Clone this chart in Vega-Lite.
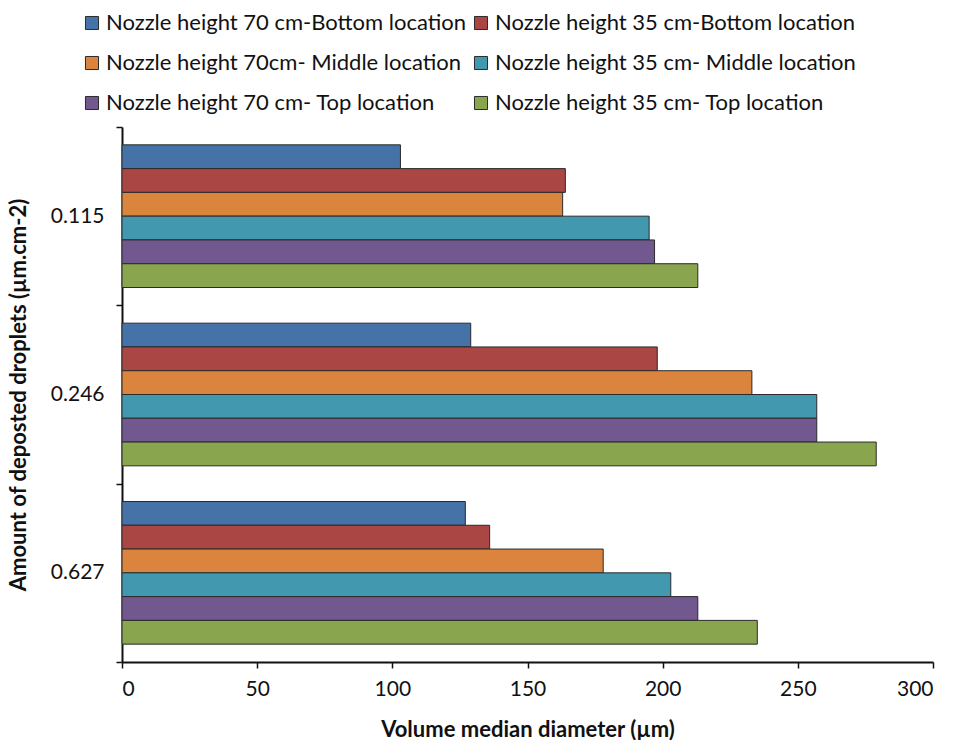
{
  "$schema": "https://vega.github.io/schema/vega-lite/v6.json",
  "width": 811,
  "height": 535,
  "autosize": "none",
  "padding": {"left": 122, "top": 127, "right": 20, "bottom": 78},
  "background": "white",
  "config": {
    "view": {"stroke": null},
    "font": "Lato"
  },
  "data": {
    "values": [
      {"amount": "0.115", "series": "Nozzle height 70 cm-Bottom location", "vmd": 103},
      {"amount": "0.115", "series": "Nozzle height 35 cm-Bottom location", "vmd": 164},
      {"amount": "0.115", "series": "Nozzle height 70cm- Middle location", "vmd": 163},
      {"amount": "0.115", "series": "Nozzle height 35 cm- Middle location", "vmd": 195},
      {"amount": "0.115", "series": "Nozzle height 70 cm- Top location", "vmd": 197},
      {"amount": "0.115", "series": "Nozzle height 35 cm- Top location", "vmd": 213},
      {"amount": "0.246", "series": "Nozzle height 70 cm-Bottom location", "vmd": 129},
      {"amount": "0.246", "series": "Nozzle height 35 cm-Bottom location", "vmd": 198},
      {"amount": "0.246", "series": "Nozzle height 70cm- Middle location", "vmd": 233},
      {"amount": "0.246", "series": "Nozzle height 35 cm- Middle location", "vmd": 257},
      {"amount": "0.246", "series": "Nozzle height 70 cm- Top location", "vmd": 257},
      {"amount": "0.246", "series": "Nozzle height 35 cm- Top location", "vmd": 279},
      {"amount": "0.627", "series": "Nozzle height 70 cm-Bottom location", "vmd": 127},
      {"amount": "0.627", "series": "Nozzle height 35 cm-Bottom location", "vmd": 136},
      {"amount": "0.627", "series": "Nozzle height 70cm- Middle location", "vmd": 178},
      {"amount": "0.627", "series": "Nozzle height 35 cm- Middle location", "vmd": 203},
      {"amount": "0.627", "series": "Nozzle height 70 cm- Top location", "vmd": 213},
      {"amount": "0.627", "series": "Nozzle height 35 cm- Top location", "vmd": 235}
    ]
  },
  "mark": {"type": "bar", "stroke": "#2a2a2a", "strokeWidth": 1},
  "encoding": {
    "y": {
      "field": "amount",
      "type": "nominal",
      "sort": ["0.115", "0.246", "0.627"],
      "scale": {"paddingInner": 0, "paddingOuter": 0},
      "axis": {
        "title": "Amount of deposted droplets (µm.cm-2)",
        "titleFontSize": 22,
        "titleFontWeight": "bold",
        "titleColor": "#111",
        "titlePadding": 20,
        "labelFontSize": 21,
        "labelColor": "#111",
        "labelPadding": 12,
        "tickBand": "extent",
        "tickSize": 6,
        "tickColor": "#111",
        "tickWidth": 1.5,
        "domainColor": "#111",
        "domainWidth": 2,
        "grid": false
      }
    },
    "yOffset": {
      "field": "series",
      "type": "nominal",
      "sort": [
        "Nozzle height 70 cm-Bottom location",
        "Nozzle height 35 cm-Bottom location",
        "Nozzle height 70cm- Middle location",
        "Nozzle height 35 cm- Middle location",
        "Nozzle height 70 cm- Top location",
        "Nozzle height 35 cm- Top location"
      ],
      "scale": {"paddingInner": 0, "paddingOuter": 0.75}
    },
    "x": {
      "field": "vmd",
      "type": "quantitative",
      "scale": {"domain": [0, 300], "nice": false},
      "axis": {
        "title": "Volume median diameter (µm)",
        "titleFontSize": 22,
        "titleFontWeight": "bold",
        "titleColor": "#111",
        "titlePadding": 20,
        "values": [0, 50, 100, 150, 200, 250, 300],
        "labelFontSize": 21,
        "labelColor": "#111",
        "labelPadding": 10,
        "tickSize": 6,
        "tickColor": "#111",
        "tickWidth": 1.5,
        "domainColor": "#111",
        "domainWidth": 2,
        "grid": false
      }
    },
    "color": {
      "field": "series",
      "type": "nominal",
      "sort": [
        "Nozzle height 70 cm-Bottom location",
        "Nozzle height 35 cm-Bottom location",
        "Nozzle height 70cm- Middle location",
        "Nozzle height 35 cm- Middle location",
        "Nozzle height 70 cm- Top location",
        "Nozzle height 35 cm- Top location"
      ],
      "scale": {
        "domain": [
          "Nozzle height 70 cm-Bottom location",
          "Nozzle height 35 cm-Bottom location",
          "Nozzle height 70cm- Middle location",
          "Nozzle height 35 cm- Middle location",
          "Nozzle height 70 cm- Top location",
          "Nozzle height 35 cm- Top location"
        ],
        "range": ["#4572A7", "#AA4643", "#DB843D", "#4198AF", "#71588F", "#89A54E"]
      },
      "legend": {
        "title": null,
        "orient": "none",
        "direction": "horizontal",
        "legendX": -41,
        "legendY": -115,
        "columns": 2,
        "columnPadding": 4,
        "rowPadding": 18,
        "symbolType": "square",
        "symbolSize": 170,
        "symbolStrokeColor": "#2a2a2a",
        "symbolStrokeWidth": 1,
        "labelFontSize": 22,
        "labelColor": "#111",
        "labelLimit": 500,
        "labelOffset": 3
      }
    }
  }
}
